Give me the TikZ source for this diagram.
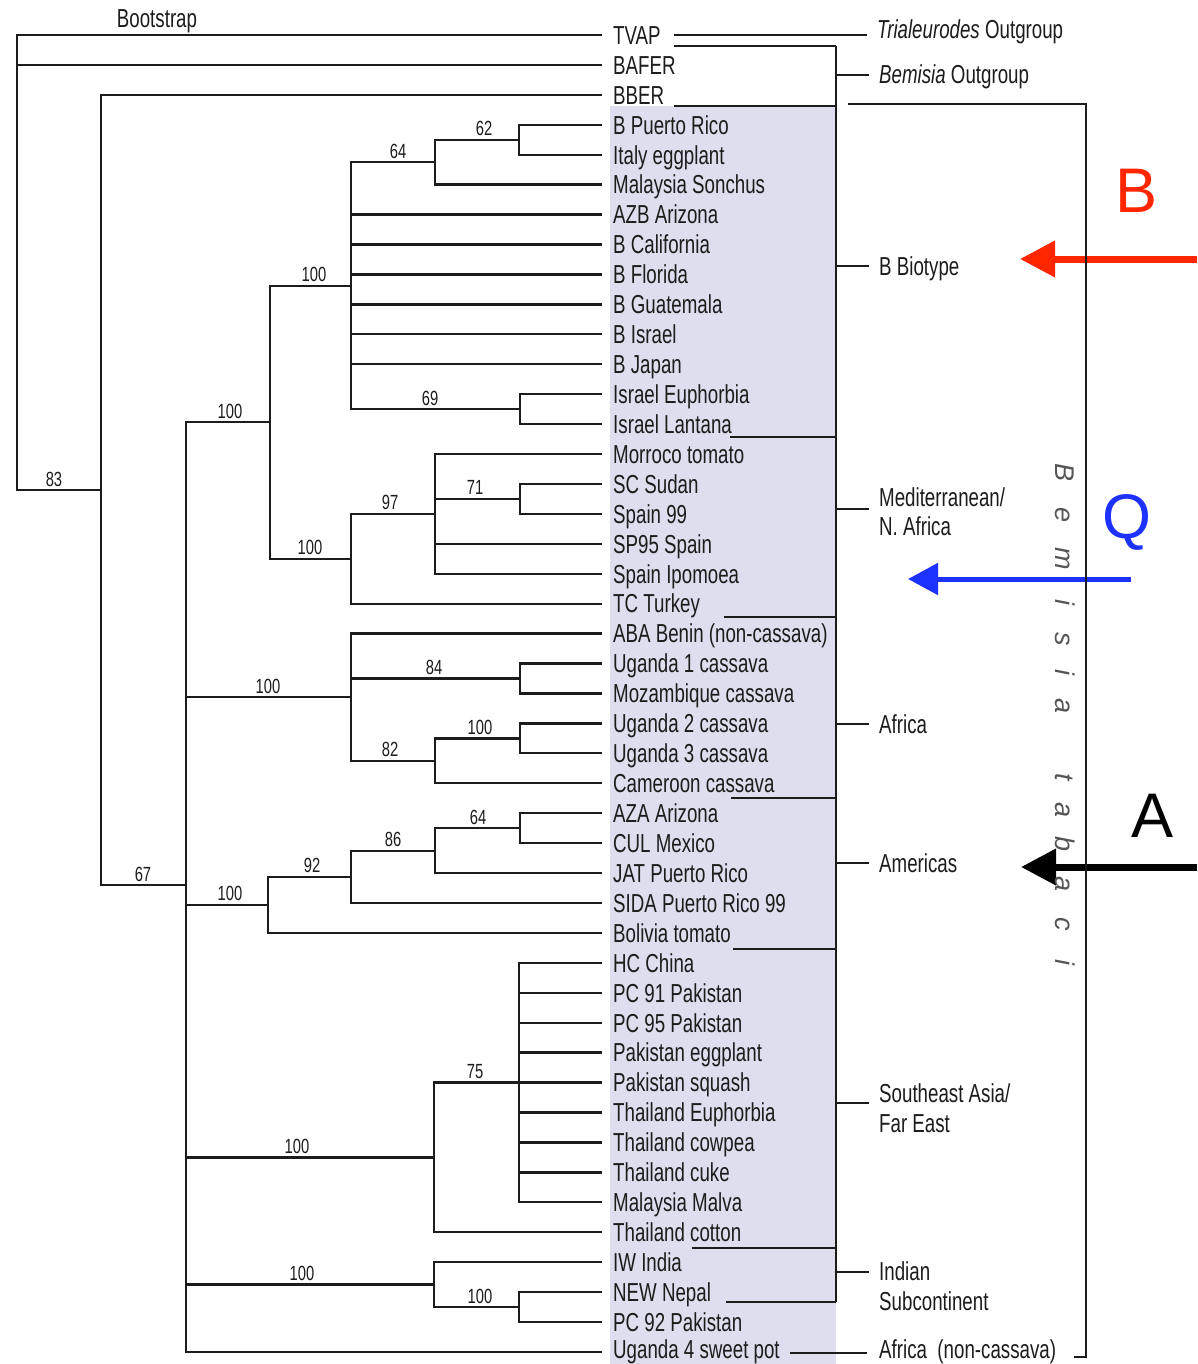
\documentclass[tikz,border=0pt]{standalone}
\usepackage{fontspec}
\setmainfont{Liberation Sans}[FakeStretch=0.72]
\newfontfamily\wideface{Liberation Sans}
\usetikzlibrary{arrows.meta}

\definecolor{ink}{RGB}{28,28,28}
\definecolor{panel}{RGB}{222,222,238}
\definecolor{markred}{RGB}{255,38,0}
\definecolor{markblue}{RGB}{30,50,255}

\begin{document}
\begin{tikzpicture}[x=1pt,y=-1pt,
  branch/.style={line width=2.3pt, draw=ink},
  leaf/.style={anchor=base west, inner sep=0pt, text=ink,
               font=\fontsize{26}{30}\selectfont},
  boot/.style={anchor=base, inner sep=0pt, text=ink,
               font=\fontsize{20.5}{22}\selectfont},
  group/.style={anchor=base west, inner sep=0pt, align=left, text=ink,
                font=\fontsize{26}{29.5}\selectfont},
  tabaci/.style={anchor=base, inner sep=0pt, rotate=-90, text=ink!75,
                 font=\wideface\itshape\fontsize{27}{27}\selectfont},
  marker/.style={anchor=base, inner sep=0pt,
                 font=\wideface\fontsize{63}{63}\selectfont},
  pointer/.style={line width=#1}
]
\useasboundingbox (0,0) rectangle (1197,1364);
\fill[white] (0,0) rectangle (1197,1364);

% shaded panel behind the ingroup taxa
\fill[panel] (610,106) rectangle (836,1364);

% ---------------- taxa ----------------
\foreach \lab [count=\i] in {TVAP, BAFER, BBER, B Puerto Rico, Italy eggplant,
  Malaysia Sonchus, AZB Arizona, B California, B Florida, B Guatemala,
  B Israel, B Japan, Israel Euphorbia, Israel Lantana, Morroco tomato,
  SC Sudan, Spain 99, SP95 Spain, Spain Ipomoea, TC Turkey,
  ABA Benin (non-cassava), Uganda 1 cassava, Mozambique cassava,
  Uganda 2 cassava, Uganda 3 cassava, Cameroon cassava, AZA Arizona,
  CUL Mexico, JAT Puerto Rico, SIDA Puerto Rico 99, Bolivia tomato,
  HC China, PC 91 Pakistan, PC 95 Pakistan, Pakistan eggplant,
  Pakistan squash, Thailand Euphorbia, Thailand cowpea, Thailand cuke,
  Malaysia Malva, Thailand cotton, IW India, NEW Nepal, PC 92 Pakistan,
  Uganda 4 sweet pot}{
  \pgfmathsetmacro\yy{35+29.93*(\i-1)}
  \pgfmathsetmacro\by{min(\yy+9.3,1358)}
  \coordinate (t\i) at (602,\yy);
  \node[leaf] (L\i) at (613,\by) {\lab};
}

% ---------------- internal nodes ----------------
\coordinate (root) at (17,262);
\coordinate (nA)   at (101,490);
\coordinate (nB)   at (186,885);
\coordinate (nC)   at (270,422.2);
\coordinate (nBb)  at (351,285.7);
\coordinate (n64)  at (435,162.2);
\coordinate (n62)  at (519,139.7);
\coordinate (n69)  at (520,409.1);
\coordinate (nMed) at (351,558.8);
\coordinate (n97)  at (435,513.9);
\coordinate (n71)  at (520,498.9);
\coordinate (nAfr) at (351,697);
\coordinate (n84)  at (520,678.5);
\coordinate (n82)  at (435,760.8);
\coordinate (nUg)  at (520,738.4);
\coordinate (nAm)  at (268,904.9);
\coordinate (n92)  at (351,876.8);
\coordinate (n86)  at (435,850.7);
\coordinate (nAz)  at (520,828.2);
\coordinate (nSEA) at (434,1157.4);
\coordinate (n75)  at (519,1082.6);
\coordinate (nInd) at (434,1284.6);
\coordinate (nNp)  at (519,1307);

% ---------------- branches ----------------
\foreach \p/\c in {root/t1, root/t2, root/nA,
  nA/t3, nA/nB,
  nB/nC, nB/nAfr, nB/nAm, nB/nSEA, nB/nInd, nB/t45,
  nC/nBb, nC/nMed,
  nBb/n64, nBb/t7, nBb/t8, nBb/t9, nBb/t10, nBb/t11, nBb/t12, nBb/n69,
  n64/n62, n64/t6, n62/t4, n62/t5, n69/t13, n69/t14,
  nMed/n97, nMed/t20, n97/t15, n97/n71, n97/t18, n97/t19, n71/t16, n71/t17,
  nAfr/t21, nAfr/n84, nAfr/n82, n84/t22, n84/t23, n82/nUg, n82/t26,
  nUg/t24, nUg/t25,
  nAm/n92, nAm/t31, n92/n86, n92/t30, n86/nAz, n86/t29, nAz/t27, nAz/t28,
  nSEA/n75, nSEA/t41, n75/t32, n75/t33, n75/t34, n75/t35, n75/t36,
  n75/t37, n75/t38, n75/t39, n75/t40,
  nInd/t42, nInd/nNp, nNp/t43, nNp/t44}
  \draw[branch] (\p) |- (\c);

% ---------------- bootstrap values ----------------
\node[anchor=base, inner sep=0pt, text=ink, font=\fontsize{26}{30}\selectfont]
  (bootlab) at (157,28) {Bootstrap};
\foreach \bx/\by/\bv [count=\k] in {54/490/83, 143/885/67, 230/422.2/100,
  268/697/100, 230/904.9/100, 297/1157.4/100, 302/1284.6/100,
  314/285.7/100, 310/558.8/100, 398/162.2/64, 484/139.7/62, 430/409.1/69,
  390/513.9/97, 475/498.9/71, 434/678.5/84, 390/760.8/82, 480/738.4/100,
  312/876.8/92, 393/850.7/86, 478/828.2/64, 475/1082.6/75, 480/1307/100}
  \node[boot] (bs\k) at ({\bx},{\by-4}) {\bv};

% ---------------- group brackets ----------------
\coordinate (spineTop) at (836,46);
\coordinate (spineBot) at (836,1302);
\draw[branch] (spineTop) -- (spineBot);
\draw[branch] (674,46) -- (spineTop);
\foreach \sx/\sy in {674/106, 730/437, 724/617, 731/798, 733/949,
                     692/1248, 726/1302}
  \draw[branch] (\sx,\sy) -- (836,\sy);

% multi-line labels sit on the baseline of their last line
\node[group] (gTri) at (877,39) {\textit{Trialeurodes} Outgroup};
\node[group] (gBem) at (879,84) {\textit{Bemisia} Outgroup};
\node[group] (gBb)  at (879,275) {B Biotype};
\node[group] (gMed) at (879,535.5) {Mediterranean/\\N. Africa};
\node[group] (gAfr) at (879,733) {Africa};
\node[group] (gAm)  at (879,872) {Americas};
\node[group] (gSEA) at (879,1132) {Southeast Asia/\\Far East};
\node[group] (gInd) at (879,1310) {Indian\\Subcontinent};
\node[group] (gAnc) at (879,1358) {Africa\ \ (non-cassava)};

\draw[branch] (674,35) -- (867,35);
\foreach \gy in {75,266,509,724,863,1103,1272}
  \draw[branch] (836,\gy) -- (869,\gy);
\draw[branch] (790,1353) -- (867,1353);

% ---------------- annotation arrows and letters ----------------
\draw[pointer=7pt, draw=markred,
      -{Triangle[length=35pt,width=35pt]}] (1197,259) -- (1020,259);
\draw[pointer=5pt, draw=markblue,
      -{Triangle[length=30pt,width=31pt]}] (1131,579) -- (908,579);
\draw[pointer=7pt, draw=black,
      -{Triangle[length=35pt,width=35pt]}] (1197,867) -- (1021,867);

\node[marker, text=markred]  (mB) at (1136,213) {B};
\node[marker, text=markblue] (mQ) at (1127,538) {Q};
\node[marker, text=black]    (mA) at (1152,837) {A};

% ---------------- Bemisia tabaci bracket ----------------
\draw[branch] (848,104) -- (1086,104) -- (1086,1357) -- (1074,1357);
\foreach \ch/\ly [count=\k] in {B/473, e/515, m/559, i/602, s/639, i/672,
  a/706, t/777, a/810, b/844, a/884, c/924, i/962}
  \node[tabaci] (bt\k) at (1055,\ly) {\ch};

\end{tikzpicture}
\end{document}
